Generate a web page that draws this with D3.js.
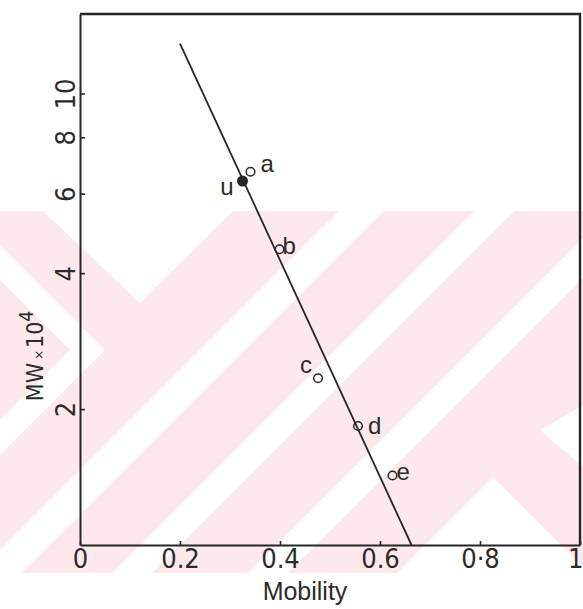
<!DOCTYPE html>
<html>
<head>
<meta charset="utf-8">
<script src="https://cdn.jsdelivr.net/npm/d3@7"></script>
<style>
  body { margin: 0; background: #fff; }
  svg text { fill: #2b2b2b; }
</style>
</head>
<body>
<svg id="chart" width="583" height="609"></svg>
<script>
// marker proteins (open circles) and the unknown (filled)
var markerNames    = ["a", "b", "c", "d", "e"]
var markerMobility = [0.341, 0.399, 0.476, 0.556, 0.625]
var markerMW       = [6.71, 4.52, 2.34, 1.835, 1.425]

var unknownName     = "u"
var unknownMobility = 0.325
var unknownMW       = 6.40

// calibration line end points
var fitMobility = [0.2, 0.663]
var fitMW       = [12.9, 1.0]

var xTicks      = [0, 0.2, 0.4, 0.6, 0.8, 1]
var xTickLabels = ["0", "0.2", "0.4", "0.6", "0·8", "1"]
var yTicks      = [2, 4, 6, 8, 10]

var ink = "#262626"
var narrow = "'Liberation Sans Narrow', 'DejaVu Sans Condensed', 'Liberation Sans', sans-serif"
var plain  = "'Liberation Sans', Arial, sans-serif"

var svg = d3.select("#chart")

var x = d3.scaleLinear().domain([0, 1]).range([80, 580])
var y = d3.scaleLog().domain([1, 15]).range([545, 14])

// faint watermark of the scan: pink block with white chevrons
var wm = svg.append("g")
wm.append("clipPath").attr("id", "wmclip")
  .append("rect").attr("x", 0).attr("y", 211).attr("width", 583).attr("height", 362)
wm.append("rect")
  .attr("x", 0).attr("y", 211)
  .attr("width", 583).attr("height", 362)
  .attr("fill", "#fde8ec")
var wmShapes = wm.append("g").attr("clip-path", "url(#wmclip)").attr("fill", "#fff")
// up-right bands x + y = c0..c1
;[[550, 595], [685, 725], [821, 861]].forEach(function(b) {
  wmShapes.append("polygon")
    .attr("points", [[b[0] - 211, 211], [b[1] - 211, 211], [b[1] - 600, 600], [b[0] - 600, 600]].join(" "))
})
wmShapes.append("polygon").attr("points", "43,211 233,211 140,303")
wmShapes.append("polygon").attr("points", "0,245 105,350 0,455 0,420 70,350 0,280")
wmShapes.append("polygon").attr("points", "397,573 493,477 583,567 583,573")
wmShapes.append("polygon").attr("points", "540,430 583,405 583,467")

// frame: top and right sides
svg.append("path")
  .attr("d", "M" + x.range()[0] + "," + y.range()[1] + "H" + x.range()[1] + "V" + y.range()[0])
  .attr("fill", "none")
  .attr("stroke", ink)
  .attr("stroke-width", 2.4)

var xAxis = d3.axisBottom(x)
  .tickValues(xTicks)
  .tickFormat(function(d, i) { return xTickLabels[i] })
  .tickSizeInner(-4)
  .tickSizeOuter(0)

var yAxis = d3.axisLeft(y)
  .tickValues(yTicks)
  .tickFormat(d3.format("d"))
  .tickSizeInner(-5)
  .tickSizeOuter(0)

var gx = svg.append("g")
  .attr("transform", "translate(0," + y.range()[0] + ")")
  .call(xAxis)

gx.select(".domain").attr("stroke", ink).attr("stroke-width", 2)
gx.selectAll(".tick line").attr("stroke", ink).attr("stroke-width", 1.6)
gx.selectAll(".tick text")
  .attr("y", 23).attr("dy", 0)
  .attr("fill", ink)
  .style("font-family", narrow)
  .style("font-size", "27px")
// last label sits against the right edge
gx.selectAll(".tick text").filter(function(d) { return d === 1 })
  .attr("text-anchor", "end").attr("x", 3)

var gy = svg.append("g")
  .attr("transform", "translate(" + x.range()[0] + ",0)")
  .call(yAxis)

gy.select(".domain").attr("stroke", ink).attr("stroke-width", 2)
gy.selectAll(".tick line").attr("stroke", ink).attr("stroke-width", 1.6)
gy.selectAll(".tick text")
  .attr("x", 0).attr("y", -5).attr("dy", 0)
  .attr("transform", "rotate(-90)")
  .attr("text-anchor", "middle")
  .attr("fill", ink)
  .style("font-family", narrow)
  .style("font-size", "27px")

// axis titles
svg.append("text")
  .attr("x", 305).attr("y", 600)
  .attr("text-anchor", "middle")
  .style("font-family", plain)
  .style("font-size", "25px")
  .text("Mobility")

var ylab = svg.append("text")
  .attr("transform", "translate(43,356) rotate(-90)")
  .attr("text-anchor", "middle")
  .style("font-family", narrow)
  .style("font-size", "23px")
ylab.append("tspan").text("MW")
ylab.append("tspan").style("font-size", "13px").attr("dx", 3).text("×")
ylab.append("tspan").attr("dx", 2).text("10")
ylab.append("tspan").style("font-size", "19px").attr("dy", -10).text("4")

// calibration line
var line = d3.line()
  .x(function(d) { return x(d[0]) })
  .y(function(d) { return y(d[1]) })

svg.append("path")
  .datum(d3.zip(fitMobility, fitMW))
  .attr("d", line)
  .attr("fill", "none")
  .attr("stroke", ink)
  .attr("stroke-width", 1.8)

// open circles for markers
var markers = d3.zip(markerNames, markerMobility, markerMW)

svg.selectAll(".marker")
  .data(markers)
  .enter().append("circle")
    .attr("class", "marker")
    .attr("cx", function(d) { return x(d[1]) })
    .attr("cy", function(d) { return y(d[2]) })
    .attr("r", 4.3)
    .attr("fill", "none")
    .attr("stroke", ink)
    .attr("stroke-width", 1.5)

// where each letter sits relative to its circle
var labelOffset = {
  a: { dx: 10, dy: 0,  anchor: "start" },
  b: { dx: 3,  dy: 5,  anchor: "start" },
  c: { dx: -6, dy: -5, anchor: "end" },
  d: { dx: 10, dy: 8,  anchor: "start" },
  e: { dx: 4,  dy: 4,  anchor: "start" },
  u: { dx: -9, dy: 14, anchor: "end" }
}

svg.selectAll(".marker-label")
  .data(markers)
  .enter().append("text")
    .attr("class", "marker-label")
    .attr("x", function(d) { return x(d[1]) + labelOffset[d[0]].dx })
    .attr("y", function(d) { return y(d[2]) + labelOffset[d[0]].dy })
    .attr("text-anchor", function(d) { return labelOffset[d[0]].anchor })
    .style("font-family", plain)
    .style("font-size", "24px")
    .text(function(d) { return d[0] })

// the unknown
svg.append("circle")
  .attr("cx", x(unknownMobility))
  .attr("cy", y(unknownMW))
  .attr("r", 5.5)
  .attr("fill", ink)

svg.append("text")
  .attr("x", x(unknownMobility) + labelOffset.u.dx)
  .attr("y", y(unknownMW) + labelOffset.u.dy)
  .attr("text-anchor", labelOffset.u.anchor)
  .style("font-family", plain)
  .style("font-size", "24px")
  .text(unknownName)
</script>
</body>
</html>
